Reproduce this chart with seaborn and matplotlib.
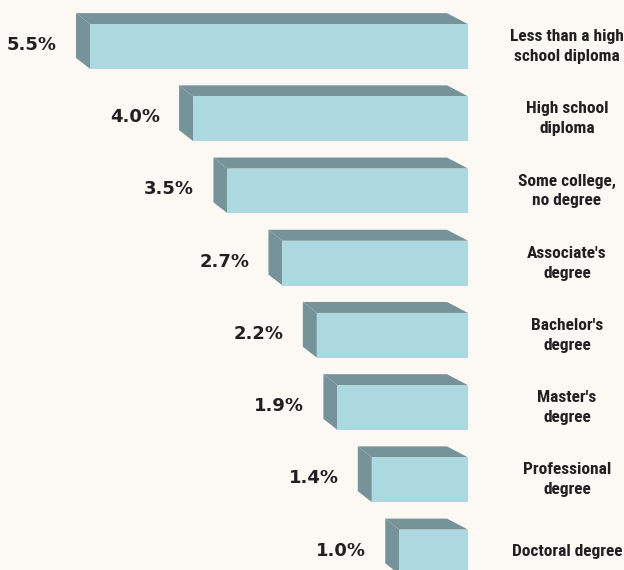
import matplotlib
matplotlib.use("Agg")
import matplotlib.pyplot as plt
from matplotlib.patches import Polygon
from matplotlib import font_manager
import seaborn as sns
import pandas as pd

# data
categories = ["Less than a high\nschool diploma", "High school\ndiploma", "Some college,\nno degree",
              "Associate's\ndegree", "Bachelor's\ndegree", "Master's\ndegree",
              "Professional\ndegree", "Doctoral degree"]
rates = [5.5, 4.0, 3.5, 2.7, 2.2, 1.9, 1.4, 1.0]
rate_labels = ["5.5%", "4.0%", "3.5%", "2.7%", "2.2%", "1.9%", "1.4%", "1.0%"]

BG = "#fcf9f5"
FRONT = "#acd9e0"
SIDE = "#76939a"
TEXT = "#231f20"

# look for a condensed bold face for the category labels
cond_file = None
for f in font_manager.fontManager.ttflist:
    fn = f.fname.lower()
    if ("condensed" in fn or "narrow" in fn) and ("bold" in fn) and "oblique" not in fn and "italic" not in fn:
        cond_file = f.fname
        if "liberation" in fn or "roboto" in fn:
            break
if cond_file:
    cat_font = font_manager.FontProperties(fname=cond_file, size=12.5)
else:
    cat_font = font_manager.FontProperties(family="DejaVu Sans", weight="bold", size=10.5)

sns.set_theme(style="white")
plt.rcParams["font.family"] = ["DejaVu Sans"]

df = pd.DataFrame({"cat": categories, "rate": rates})

fig = plt.figure(figsize=(6.24, 5.70), dpi=100, facecolor=BG)
ax = fig.add_axes([0, 0, 1, 1])
ax.set_facecolor(BG)

sns.barplot(data=df, x="rate", y="cat", orient="h", color=FRONT, width=0.62,
            saturation=1, linewidth=0, ax=ax, zorder=3)

ax.set_xlim(6.81, -2.27)
ax.set_ylim(7.25, -0.644)
ax.axis("off")

# 3D faces (offset up-left of each front face)
dx_left = 0.204
dx_right = 0.306
dy = 0.152
for p, lab in zip(ax.patches, rate_labels):
    x0 = p.get_x()
    x1 = x0 + p.get_width()  # value end (left side on screen)
    yt = p.get_y()
    yb = yt + p.get_height()
    top = Polygon([(x1 + dx_left, yt - dy), (x0 + dx_right, yt - dy), (x0, yt), (x1, yt)],
                  closed=True, facecolor=SIDE, edgecolor="none", zorder=2)
    side = Polygon([(x1 + dx_left, yt - dy), (x1, yt), (x1, yb), (x1 + dx_left, yb - dy)],
                   closed=True, facecolor=SIDE, edgecolor="none", zorder=2)
    ax.add_patch(top)
    ax.add_patch(side)
    ax.text(x1 + dx_left + 0.28, (yt + yb) / 2 - 0.02, lab, ha="right", va="center",
            fontsize=13, fontweight="bold", color=TEXT)

for i, c in enumerate(categories):
    ax.text(-1.44, i, c, ha="center", va="center", fontproperties=cat_font,
            color=TEXT, linespacing=1.4)

fig.savefig("out.png", dpi=100, facecolor=BG)
